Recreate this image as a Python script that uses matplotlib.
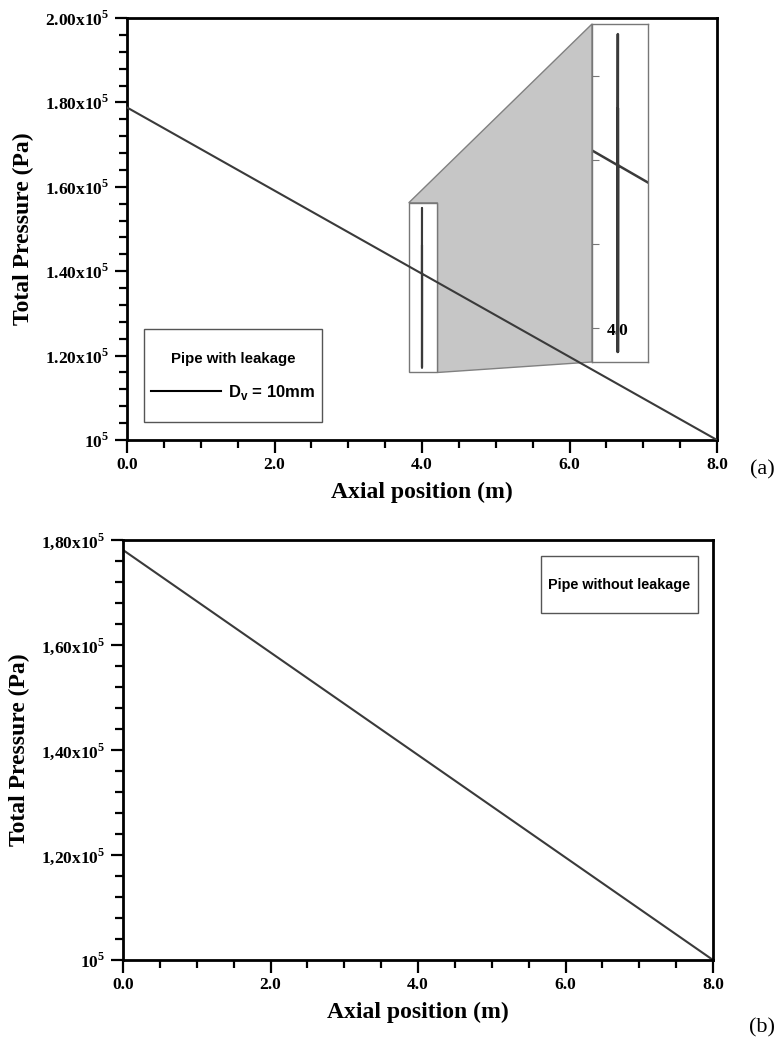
import numpy as np
import matplotlib
matplotlib.use("Agg")
import matplotlib.pyplot as plt
from matplotlib.ticker import FixedLocator, MultipleLocator
from matplotlib.patches import Polygon, Rectangle

# ---- data ----
# (a) pipe with a 10 mm leak at x = 4 m (pressure spike at the leak)
x_leak = [0.0, 3.999, 4.0, 4.0, 4.0, 4.0, 4.001, 8.0]
p_leak = [1.788e5, 1.394e5, 1.550e5, 1.172e5, 1.462e5, 1.172e5, 1.394e5, 1.0e5]
# (b) pipe without leakage
x_noleak = [0.0, 8.0]
p_noleak = [1.781e5, 1.0e5]

xticks = [0.0, 2.0, 4.0, 6.0, 8.0]
xtick_labels_a = ["0.0", "2.0", "4.0", "6.0", "8.0"]
xtick_labels_b = ["0.0", "2.0", "4.0", "6.0", "8.0"]
yticks_a = [1.0e5, 1.2e5, 1.4e5, 1.6e5, 1.8e5, 2.0e5]
ytick_labels_a = [r"10$^{5}$", r"1.20x10$^{5}$", r"1.40x10$^{5}$",
                  r"1.60x10$^{5}$", r"1.80x10$^{5}$", r"2.00x10$^{5}$"]
yticks_b = [1.0e5, 1.2e5, 1.4e5, 1.6e5, 1.8e5]
ytick_labels_b = [r"10$^{5}$", r"1,20x10$^{5}$", r"1,40x10$^{5}$",
                  r"1,60x10$^{5}$", r"1,80x10$^{5}$"]

# zoom window around the leak
zoom_x = (3.82, 4.21)
zoom_y = (1.16e5, 1.562e5)
zoom_yticks = [1.2e5, 1.3e5, 1.4e5, 1.5e5]

plt.rcParams['font.family'] = ['Liberation Serif', 'DejaVu Serif']
plt.rcParams['font.weight'] = 'bold'
plt.rcParams['mathtext.fontset'] = 'custom'
plt.rcParams['mathtext.rm'] = 'Liberation Serif:bold'
plt.rcParams['mathtext.bf'] = 'Liberation Serif:bold'
plt.rcParams['mathtext.sf'] = 'Liberation Sans:bold'

line_col = '#3a3a3a'
box_col = '#555555'
sans = {'family': 'Liberation Sans', 'weight': 'bold'}
W, H = 782, 1044
fig = plt.figure(figsize=(W / 100, H / 100), dpi=100)


def frac(l, t, r, b):
    return [l / W, 1 - b / H, (r - l) / W, (b - t) / H]


def style_axes(ax):
    for s in ax.spines.values():
        s.set_linewidth(2.0)
        s.set_color('black')
    ax.tick_params(which='major', direction='out', length=9, width=1.6,
                   labelsize=12.5, top=False, right=False)
    ax.tick_params(which='minor', direction='out', length=5.5, width=1.6,
                   top=False, right=False)
    ax.xaxis.set_minor_locator(MultipleLocator(0.5))
    ax.yaxis.set_minor_locator(MultipleLocator(0.04e5))
    ax.set_xlim(0, 8)
    ax.set_xlabel("Axial position (m)", fontsize=17, fontweight='bold', labelpad=6)
    ax.set_ylabel("Total Pressure (Pa)", fontsize=17, fontweight='bold', labelpad=8)


# ---- (a) ----
ax1 = fig.add_axes(frac(127, 18, 717, 440))
ax1.plot(x_leak, p_leak, color=line_col, lw=1.5, zorder=3, label=r"D$_\mathsf{v}$ = 10mm")
ax1.set_ylim(1.0e5, 2.0e5)
ax1.yaxis.set_major_locator(FixedLocator(yticks_a))
ax1.set_yticklabels(ytick_labels_a)
ax1.xaxis.set_major_locator(FixedLocator(xticks))
ax1.set_xticklabels(xtick_labels_a)
style_axes(ax1)

# legend box of (a)
ax1.add_patch(Rectangle((0.0288, 0.0427), 0.3017, 0.2203, transform=ax1.transAxes,
                        facecolor='white', edgecolor=box_col, lw=1.0, zorder=4))
leg = ax1.legend(loc='center', bbox_to_anchor=(0.1797, 0.150), frameon=False,
                 title="Pipe with leakage", handlelength=4.2, handletextpad=0.45,
                 labelspacing=1.0, borderpad=0.2,
                 prop=dict(sans, size=12), title_fontproperties=dict(sans, size=10.8))
leg.set_zorder(5)
leg.get_lines()[0].set_color('black')
leg.get_lines()[0].set_linewidth(1.5)

# small rectangle marking the zoomed region
ax1.add_patch(Rectangle((zoom_x[0], zoom_y[0]), zoom_x[1] - zoom_x[0], zoom_y[1] - zoom_y[0],
                        facecolor='white', edgecolor='#777777', lw=1.0, zorder=2))

# inset
axin = fig.add_axes(frac(592, 24, 648, 362))
axin.plot(x_leak, p_leak, color=line_col, lw=1.8)
axin.set_xlim(*zoom_x)
axin.set_ylim(*zoom_y)
axin.set_yticks(zoom_yticks)
axin.set_yticklabels([])
axin.set_xticks([4.0])
axin.set_xticklabels(["4.0"])
axin.tick_params(axis='y', direction='in', length=5, width=0.8, color='#777777')
axin.tick_params(axis='x', direction='in', length=0, pad=-28, labelsize=12.5)
for s in axin.spines.values():
    s.set_linewidth(1.0)
    s.set_color('#777777')
axin.set_zorder(5)

# gray connector between the marker box and the inset, under the main curve
to_fig = fig.transFigure.inverted()
def d2f(ax, xy):
    return to_fig.transform(ax.transData.transform(xy))
def a2f(ax, xy):
    return to_fig.transform(ax.transAxes.transform(xy))
verts = [d2f(ax1, (zoom_x[0], zoom_y[1])),
         a2f(axin, (0, 1)),
         a2f(axin, (0, 0)),
         d2f(ax1, (zoom_x[1], zoom_y[0])),
         d2f(ax1, (zoom_x[1], zoom_y[1]))]
ax1.add_patch(Polygon(verts, closed=True, transform=fig.transFigure, clip_on=False,
                      facecolor='#c6c6c6', edgecolor='#808080', lw=1.0, zorder=1))

# ---- (b) ----
ax2 = fig.add_axes(frac(123, 540, 713, 960))
ax2.plot(x_noleak, p_noleak, color=line_col, lw=1.5)
ax2.set_ylim(1.0e5, 1.8e5)
ax2.yaxis.set_major_locator(FixedLocator(yticks_b))
ax2.set_yticklabels(ytick_labels_b)
ax2.xaxis.set_major_locator(FixedLocator(xticks))
ax2.set_xticklabels(xtick_labels_b)
style_axes(ax2)

ax2.add_patch(Rectangle((0.7085, 0.826), 0.2661, 0.136, transform=ax2.transAxes,
                        facecolor='white', edgecolor=box_col, lw=1.0, zorder=4))
ax2.text(0.8415, 0.894, "Pipe without leakage", transform=ax2.transAxes,
         ha='center', va='center', fontsize=10.4, zorder=5, **sans)

fig.text(762 / W, 1 - 470 / H, "(a)", fontsize=16, fontweight='normal', ha='center', va='center')
fig.text(762 / W, 1 - 1028 / H, "(b)", fontsize=16, fontweight='normal', ha='center', va='center')

fig.savefig("out.png", dpi=100)
